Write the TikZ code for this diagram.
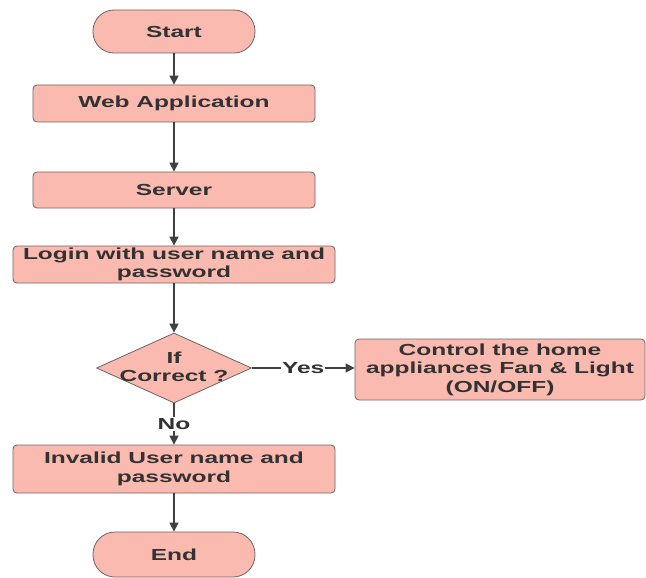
\documentclass[tikz,border=0pt]{standalone}
\usepackage{fontspec}
\setmainfont{Liberation Sans}[FakeStretch=1.53]
\usetikzlibrary{shapes.geometric,arrows.meta}
\definecolor{boxfill}{RGB}{250,186,176}
\definecolor{boxline}{RGB}{110,100,98}
\definecolor{txt}{RGB}{50,50,50}
\definecolor{arr}{RGB}{64,64,64}
\begin{document}
\begin{tikzpicture}[x=1pt,y=-1pt,
  lbl/.style={font=\bfseries\fontsize{16}{18.5}\selectfont, text=txt, align=center},
  procbox/.style={lbl, draw=boxline, line width=0.8pt, fill=boxfill, rounded corners=4pt, inner sep=0pt},
  pill/.style={procbox, rounded corners=21pt, minimum width=162pt},
  conn/.style={draw=arr, line width=1.4pt, -{Triangle[length=9pt,width=9pt]}},
  edgelbl/.style={lbl, fill=white, inner sep=1pt}
]
\useasboundingbox (0,0) rectangle (646,578);
\node[pill, minimum height=43pt] (start) at (174,31.5) {Start};
\node[procbox, minimum width=282pt, minimum height=37pt] (web) at (174,103.5) {Web Application};
\node[procbox, minimum width=282pt, minimum height=36pt] (server) at (174,190) {Server};
\node[procbox, minimum width=322pt, minimum height=37pt] (login) at (174,264.5) {Login with user name and\\password};
\node[diamond, draw=boxline, line width=0.8pt, fill=boxfill, inner sep=0pt, aspect=2.2, minimum width=155pt, minimum height=70pt] (dec) at (174,368) {};
\node[lbl] (dectext) at (174,367) {If\\Correct ?};
\node[procbox, minimum width=290pt, minimum height=61pt] (ctrl) at (500,369.5) {Control the home\\appliances Fan \& Light\\(ON/OFF)};
\node[procbox, minimum width=322pt, minimum height=48pt] (invalid) at (174,469) {Invalid User name and\\password};
\node[pill, minimum height=45pt, rounded corners=22pt] (end) at (174,554.5) {End};
\draw[conn] (start) -- (web);
\draw[conn] (web) -- (server);
\draw[conn] (server) -- (login);
\draw[conn] (login) -- (dec);
\draw[conn] (dec.east) -- node[edgelbl] {Yes} (ctrl.west |- dec.east);
\draw[conn] (dec.south) -- node[edgelbl] {No} (invalid.north -| dec.south);
\draw[conn] (invalid) -- (end);
\end{tikzpicture}
\end{document}
